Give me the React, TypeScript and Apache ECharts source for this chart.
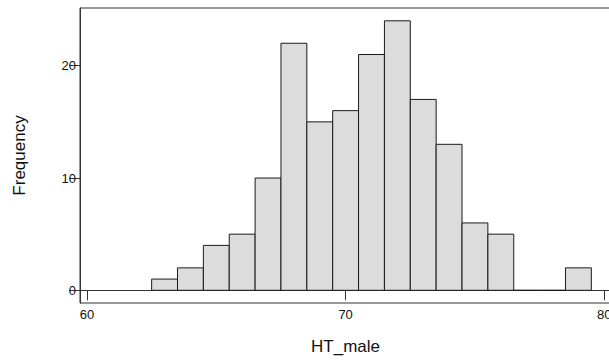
import React, { useEffect, useRef } from "react";
import * as echarts from "echarts";

const binStarts = [62.5, 63.5, 64.5, 65.5, 66.5, 67.5, 68.5, 69.5, 70.5, 71.5, 72.5, 73.5, 74.5, 75.5, 76.5, 77.5, 78.5];
const binWidth = 1;
const counts = [1, 2, 4, 5, 10, 22, 15, 16, 21, 24, 17, 13, 6, 5, 0, 0, 2];
const xTicks = [60, 70, 80];
const yTicks = [0, 10, 20];

export default function App() {
  const ref = useRef<HTMLDivElement>(null);
  useEffect(() => {
    if (!ref.current) return;
    const chart = echarts.init(ref.current, undefined, { renderer: "svg" });
    const data = binStarts.map((s, i) => [s, s + binWidth, counts[i]]);
    const font = "'Liberation Sans', Arial, sans-serif";
    chart.setOption({
      animation: false,
      backgroundColor: "#ffffff",
      grid: {
        left: 80,
        right: -2,
        top: 8,
        bottom: 57,
        show: true,
        containLabel: false,
        outerBoundsMode: "none",
        borderColor: "#333",
        borderWidth: 1,
        backgroundColor: "transparent",
      },
      xAxis: {
        type: "value",
        min: 59.73,
        max: 80.26,
        name: "HT_male",
        nameLocation: "middle",
        nameGap: 35,
        nameTextStyle: { fontFamily: font, fontSize: 17, color: "#111" },
        axisLine: { show: true, lineStyle: { color: "#333", width: 1 } },
        axisTick: { show: true, customValues: xTicks, length: 10, inside: false, lineStyle: { color: "#333" } },
        axisLabel: { show: true, customValues: xTicks, margin: 5, fontFamily: font, fontSize: 13, color: "#111", showMaxLabel: true, showMinLabel: true, hideOverlap: false },
        splitLine: { show: false },
      },
      yAxis: {
        type: "value",
        min: -1.13,
        max: 25.14,
        name: "Frequency",
        nameLocation: "middle",
        nameGap: 52,
        nameRotate: 90,
        nameTextStyle: { fontFamily: font, fontSize: 17, color: "#111" },
        axisLine: { show: true, lineStyle: { color: "#333", width: 1 } },
        axisTick: { show: true, customValues: yTicks, length: 11, lineStyle: { color: "#333" } },
        axisLabel: { show: true, customValues: yTicks, margin: 4, fontFamily: font, fontSize: 13, color: "#111" },
        splitLine: { show: false },
      },
      series: [
        {
          type: "custom",
          data,
          encode: { x: [0, 1], y: 2 },
          renderItem: (params: any, api: any) => {
            const x0 = api.value(0);
            const x1 = api.value(1);
            const c = api.value(2);
            const p0 = api.coord([x0, c]);
            const p1 = api.coord([x1, 0]);
            return {
              type: "rect",
              shape: { x: p0[0], y: p0[1], width: p1[0] - p0[0], height: p1[1] - p0[1] },
              style: { fill: "#dcdcdc", stroke: "#1a1a1a", lineWidth: 1 },
            };
          },
        },
      ],
    });
    return () => chart.dispose();
  }, []);
  return (
    <div
      ref={ref}
      style={{ position: "fixed", left: 0, top: 0, width: 609, height: 360, background: "#fff" }}
    />
  );
}
